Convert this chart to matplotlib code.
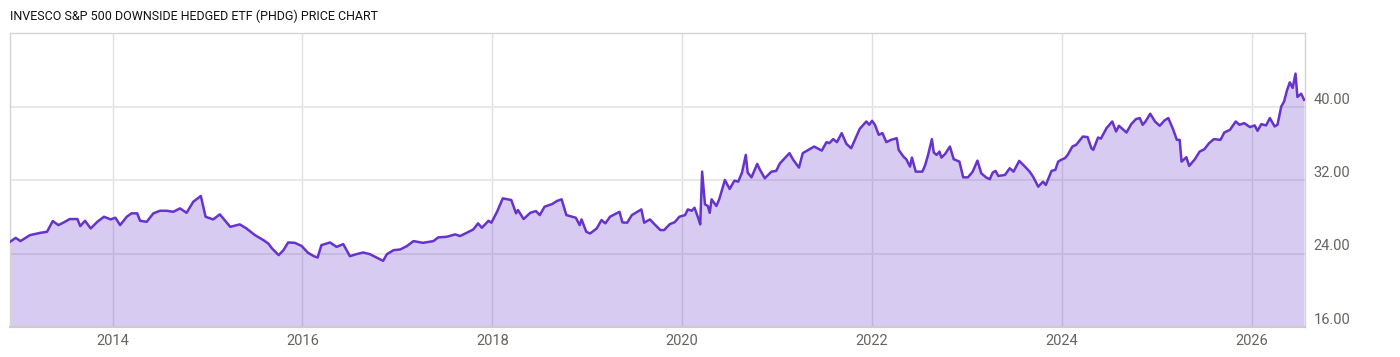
import matplotlib
matplotlib.use("Agg")
import matplotlib.pyplot as plt

# PHDG price (decimal years)
years = [
    2012.92, 2012.98, 2013.03, 2013.13, 2013.24, 2013.31, 2013.37, 2013.43, 2013.48, 2013.55,
    2013.63, 2013.66, 2013.71, 2013.77, 2013.84, 2013.91, 2013.98,
    2014.03, 2014.08, 2014.15, 2014.20, 2014.26, 2014.29, 2014.36, 2014.43, 2014.50, 2014.57,
    2014.64, 2014.71, 2014.78, 2014.85, 2014.93, 2014.98,
    2015.06, 2015.13, 2015.24, 2015.34, 2015.41, 2015.50, 2015.59, 2015.64, 2015.68, 2015.75,
    2015.80, 2015.85, 2015.92, 2015.99,
    2016.06, 2016.12, 2016.16, 2016.20, 2016.29, 2016.36, 2016.43, 2016.50, 2016.57, 2016.64,
    2016.71, 2016.78, 2016.85, 2016.89, 2016.96,
    2017.03, 2017.10, 2017.17, 2017.27, 2017.38, 2017.43, 2017.52, 2017.61, 2017.66, 2017.73,
    2017.80, 2017.85, 2017.89, 2017.96, 2017.99,
    2018.05, 2018.11, 2018.20, 2018.25, 2018.27, 2018.33, 2018.40, 2018.46, 2018.50, 2018.55,
    2018.63, 2018.68, 2018.73, 2018.78, 2018.88, 2018.92, 2018.94, 2018.99,
    2019.03, 2019.10, 2019.15, 2019.19, 2019.24, 2019.31, 2019.34, 2019.37, 2019.42, 2019.47,
    2019.57, 2019.60, 2019.66, 2019.71, 2019.77, 2019.81, 2019.87, 2019.92, 2019.97,
    2020.03, 2020.06, 2020.10, 2020.13, 2020.17, 2020.19, 2020.21, 2020.24, 2020.27, 2020.29,
    2020.31, 2020.36, 2020.39, 2020.45, 2020.50, 2020.55, 2020.59, 2020.63, 2020.67, 2020.69,
    2020.73, 2020.79, 2020.82, 2020.87, 2020.94, 2020.99,
    2021.03, 2021.08, 2021.13, 2021.17, 2021.23, 2021.27, 2021.33, 2021.39, 2021.47, 2021.52,
    2021.55, 2021.59, 2021.63, 2021.68, 2021.73, 2021.78, 2021.87, 2021.94, 2021.97,
    2022.00, 2022.03, 2022.07, 2022.11, 2022.15, 2022.20, 2022.26, 2022.28, 2022.33, 2022.36,
    2022.40, 2022.42, 2022.46, 2022.53, 2022.56, 2022.59, 2022.63, 2022.65, 2022.68, 2022.71,
    2022.73, 2022.77, 2022.82, 2022.86, 2022.92, 2022.96,
    2023.01, 2023.06, 2023.11, 2023.15, 2023.20, 2023.24, 2023.27, 2023.30, 2023.33, 2023.40,
    2023.45, 2023.49, 2023.55, 2023.61, 2023.66, 2023.70, 2023.75, 2023.80, 2023.83, 2023.89,
    2023.93, 2023.96, 2023.99,
    2024.03, 2024.06, 2024.11, 2024.15, 2024.22, 2024.27, 2024.31, 2024.33, 2024.38, 2024.41,
    2024.47, 2024.53, 2024.57, 2024.60, 2024.64, 2024.68, 2024.73, 2024.78, 2024.82, 2024.85,
    2024.88, 2024.93, 2024.98,
    2025.03, 2025.08, 2025.12, 2025.17, 2025.21, 2025.24, 2025.26, 2025.31, 2025.34, 2025.40,
    2025.45, 2025.50, 2025.55, 2025.60, 2025.67, 2025.71, 2025.77, 2025.83, 2025.87, 2025.92,
    2025.98,
    2026.03, 2026.06, 2026.10, 2026.15, 2026.19, 2026.24, 2026.27, 2026.31, 2026.34, 2026.37,
    2026.40, 2026.43, 2026.46, 2026.48, 2026.52, 2026.55,
]
prices = [
    25.27, 25.70, 25.35, 26.00, 26.25, 26.36, 27.53, 27.09, 27.35, 27.75,
    27.75, 26.98, 27.56, 26.73, 27.45, 28.00, 27.71,
    27.89, 27.09, 28.00, 28.37, 28.37, 27.56, 27.45, 28.37, 28.65, 28.65,
    28.54, 28.91, 28.43, 29.63, 30.26, 28.00,
    27.71, 28.26, 26.90, 27.17, 26.73, 26.00, 25.45, 25.09, 24.55, 23.82,
    24.36, 25.20, 25.16, 24.83,
    24.07, 23.71, 23.56, 24.91, 25.20, 24.72, 25.02, 23.71, 23.93, 24.11,
    23.93, 23.56, 23.20, 23.93, 24.36,
    24.44, 24.80, 25.35, 25.16, 25.35, 25.75, 25.82, 26.08, 25.90, 26.25,
    26.62, 27.28, 26.80, 27.56, 27.35,
    28.54, 30.00, 29.82, 28.37, 28.73, 27.75, 28.43, 28.62, 28.18, 29.09,
    29.38, 29.71, 29.90, 28.18, 27.89, 27.09, 27.71, 26.36,
    26.18, 26.73, 27.64, 27.28, 28.00, 28.37, 28.54, 27.39, 27.35, 28.18,
    28.80, 27.35, 27.71, 27.17, 26.55, 26.55, 27.20, 27.40, 28.00,
    28.18, 28.80, 28.65, 28.98, 27.82, 27.17, 32.91, 29.35, 29.17, 28.43,
    29.90, 29.17, 29.90, 32.00, 31.02, 31.93, 31.82, 32.80, 34.73, 32.80,
    32.29, 33.75, 33.10, 32.19, 32.91, 32.99,
    33.82, 34.37, 34.92, 34.19, 33.35, 34.92, 35.28, 35.64, 35.20, 36.12,
    36.01, 36.45, 36.12, 37.10, 35.93, 35.46, 37.57, 38.37, 38.01,
    38.44, 38.01, 36.92, 37.10, 36.12, 36.37, 36.55, 35.28, 34.55, 34.26,
    33.46, 34.44, 32.91, 32.91, 33.64, 34.73, 36.45, 34.99, 34.73, 35.09,
    34.44, 34.84, 35.64, 34.26, 34.00, 32.29,
    32.29, 32.91, 34.11, 32.73, 32.29, 32.08, 32.80, 32.99, 32.44, 32.55,
    33.28, 32.91, 34.08, 33.46, 32.91, 32.29, 31.27, 31.82, 31.46, 32.99,
    33.10, 34.00, 34.19,
    34.37, 34.73, 35.64, 35.83, 36.73, 36.67, 35.46, 35.28, 36.62, 36.50,
    37.65, 38.37, 37.28, 37.90, 37.54, 37.17, 38.08, 38.63, 38.74, 38.01,
    38.37, 39.21, 38.37,
    37.90, 38.48, 38.74, 37.54, 36.37, 36.37, 34.00, 34.48, 33.53, 34.26,
    35.09, 35.35, 36.01, 36.45, 36.37, 37.17, 37.46, 38.37, 38.01, 38.19,
    37.76,
    37.94, 37.35, 38.08, 37.94, 38.74, 37.83, 38.01, 40.00, 40.55, 41.75,
    42.63, 42.02, 43.58, 41.04, 41.39, 40.73,
]
x_ticks = [2014, 2016, 2018, 2020, 2022, 2024, 2026]
y_ticks = [16, 24, 32, 40]

title = "INVESCO S&P 500 DOWNSIDE HEDGED ETF (PHDG) PRICE CHART"
line_color = "#6633cc"
label_color = "#666360"

fig = plt.figure(figsize=(14, 3.57), dpi=100)
ax = fig.add_axes([10 / 1400, 30 / 357, 1295 / 1400, 294 / 357])

ax.fill_between(years, prices, y_ticks[0], color=line_color, alpha=0.25, lw=0, zorder=2)
ax.plot(years, prices, color=line_color, lw=1.8, zorder=3)

ax.set_xlim(2012.92, 2026.56)
ax.set_ylim(16, 48)

ax.set_xticks(x_ticks)
ax.set_xticklabels([str(y) for y in x_ticks])
ax.set_yticks(y_ticks)
ax.set_yticklabels([f"{v:.2f}" for v in y_ticks])
ax.yaxis.tick_right()
ax.tick_params(length=0, labelsize=10.5, labelcolor=label_color, labelfontfamily="Roboto")
ax.tick_params(axis="x", pad=5)
ax.tick_params(axis="y", pad=6)
plt.setp(ax.get_yticklabels(), va="bottom")

ax.set_axisbelow(True)
ax.grid(axis="x", color="#e0e0e0", lw=1.0)
ax.grid(axis="y", color="#e8e8e8", lw=1.5)
for side in ["left", "right", "top"]:
    ax.spines[side].set_color("#d4d4d4")
    ax.spines[side].set_linewidth(1)
ax.spines["bottom"].set_color("#cccccc")
ax.spines["bottom"].set_linewidth(1.5)

fig.text(10 / 1400, 1 - 16 / 357, title, ha="left", va="center", fontsize=9,
         family=["Roboto"], color="#111111")

fig.savefig("out.png", dpi=100, facecolor="white")
